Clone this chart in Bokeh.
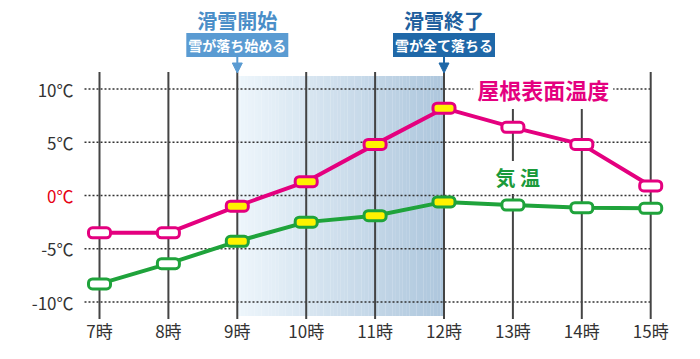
from bokeh.plotting import figure
from bokeh.models import Label, Arrow, NormalHead, Range1d
from bokeh.core.properties import value
from bokeh.embed import file_html
from bokeh.resources import INLINE

# ---- data ----
hours = [7, 8, 9, 10, 11, 12, 13, 14, 15]
hour_labels = ["7時", "8時", "9時", "10時", "11時", "12時", "13時", "14時", "15時"]
roof_temp = [-3.5, -3.5, -1.0, 1.3, 4.8, 8.2, 6.4, 4.8, 0.9]
air_temp = [-8.3, -6.4, -4.3, -2.5, -1.9, -0.6, -0.9, -1.15, -1.2]
y_ticks = [10, 5, 0, -5, -10]
y_tick_labels = ["10℃", "5℃", "0℃", "-5℃", "-10℃"]
slide_start = 9
slide_end = 12

# ---- styling / layout ----
FONT = "Noto Sans CJK JP"
PINK = "#e4007f"
GREEN = "#1fa33b"
YELLOW = "#fff200"
START_BLUE = "#5a9bd2"
END_BLUE = "#1f68a8"
PX_H = 68.9      # px per hour
PX_T = 10.65     # px per degree

def dx(px):
    return px / PX_H

def dy(px):
    return px / PX_T

p = figure(width=684, height=343, output_backend="svg", toolbar_location=None,
           x_range=Range1d(hours[0] - dx(99), hours[0] + dx(585)),
           y_range=Range1d(-dy(148), dy(195)),
           min_border=0, x_axis_location=None, y_axis_location=None,
           outline_line_color=None)
p.grid.visible = False
p.background_fill_color = "white"

top_t = max(y_ticks) + dy(17)
bot_t = min(y_ticks) - dy(17)

# gradient shaded band between start and end of sliding
N = 60
c0 = (238, 246, 252)
c1 = (174, 199, 221)
lefts, rights, cols = [], [], []
w = (slide_end - slide_start) / N
for i in range(N):
    f = i / (N - 1)
    r = int(c0[0] + (c1[0] - c0[0]) * f)
    g = int(c0[1] + (c1[1] - c0[1]) * f)
    b = int(c0[2] + (c1[2] - c0[2]) * f)
    lefts.append(slide_start + i * w)
    rights.append(slide_start + (i + 1) * w + 0.002)
    cols.append("#%02x%02x%02x" % (r, g, b))
p.quad(left=lefts, right=rights, bottom=min(y_ticks) - dy(14), top=max(y_ticks) + dy(13),
       fill_color=cols, line_color=None)

# dotted horizontal grid
for t in y_ticks:
    p.line([hours[0] - dx(15), hours[-1]], [t, t], line_color="#333333",
           line_width=1.5, line_dash="2 2")

# vertical hour lines
p.segment(x0=hours, x1=hours, y0=[bot_t] * len(hours), y1=[top_t] * len(hours),
          line_color="#444444", line_width=2)

# series lines
p.line(hours, roof_temp, line_color=PINK, line_width=4)
p.line(hours, air_temp, line_color=GREEN, line_width=4)

fills = [YELLOW if slide_start <= h <= slide_end else "white" for h in hours]
p.rect(x=hours, y=roof_temp, width=22, height=10, width_units="screen", height_units="screen",
       fill_color=fills, line_color=PINK, line_width=3, border_radius=4)
p.rect(x=hours, y=air_temp, width=22, height=10, width_units="screen", height_units="screen",
       fill_color=fills, line_color=GREEN, line_width=3, border_radius=4)

# tick labels
tick_colors = ["#e60012" if t == 0 else "#333333" for t in y_ticks]
p.text(x=[hours[0] - dx(26)] * len(y_ticks), y=y_ticks, text=y_tick_labels,
       text_color=tick_colors, text_font=value(FONT), text_font_size="17px",
       text_align="right", text_baseline="middle")
p.text(x=hours, y=[min(y_ticks) - dy(28)] * len(hours), text=hour_labels,
       text_color="#333333", text_font=value(FONT), text_font_size="17px",
       text_align="center", text_baseline="middle")

# series labels
p.add_layout(Label(x=13.44, y=10, text="屋根表面温度", text_font=FONT, text_font_size="22px",
                   text_font_style="bold", text_color=PINK, text_align="center",
                   text_baseline="middle", background_fill_color="white", padding=4))
p.add_layout(Label(x=13.07, y=1.7, text="気 温", text_font=FONT, text_font_size="20px",
                   text_font_style="bold", text_color="#1a9a3a", text_align="center",
                   text_baseline="middle", background_fill_color="white", padding=2))

# event annotations
for xpos, title, sub, tcol, bcol in [
        (slide_start, "滑雪開始", "雪が落ち始める", "#4a8ec8", START_BLUE),
        (slide_end, "滑雪終了", "雪が全て落ちる", "#1f5f9e", END_BLUE)]:
    p.add_layout(Label(x=xpos, y=max(y_ticks) + dy(69), text=title, text_font=FONT,
                       text_font_size="20px", text_font_style="bold", text_color=tcol,
                       text_align="center", text_baseline="middle"))
    p.add_layout(Label(x=xpos, y=max(y_ticks) + dy(44), text=sub, text_font=FONT,
                       text_font_size="14px", text_font_style="bold", text_color="white",
                       text_align="center", text_baseline="middle",
                       background_fill_color=bcol, padding=2))
    p.add_layout(Arrow(x_start=xpos, y_start=max(y_ticks) + dy(35), x_end=xpos,
                       y_end=max(y_ticks) + dy(16), line_color=bcol, line_width=2,
                       end=NormalHead(size=10, fill_color=bcol, line_color=bcol)))

open("out.html", "w").write(file_html(p, INLINE))
